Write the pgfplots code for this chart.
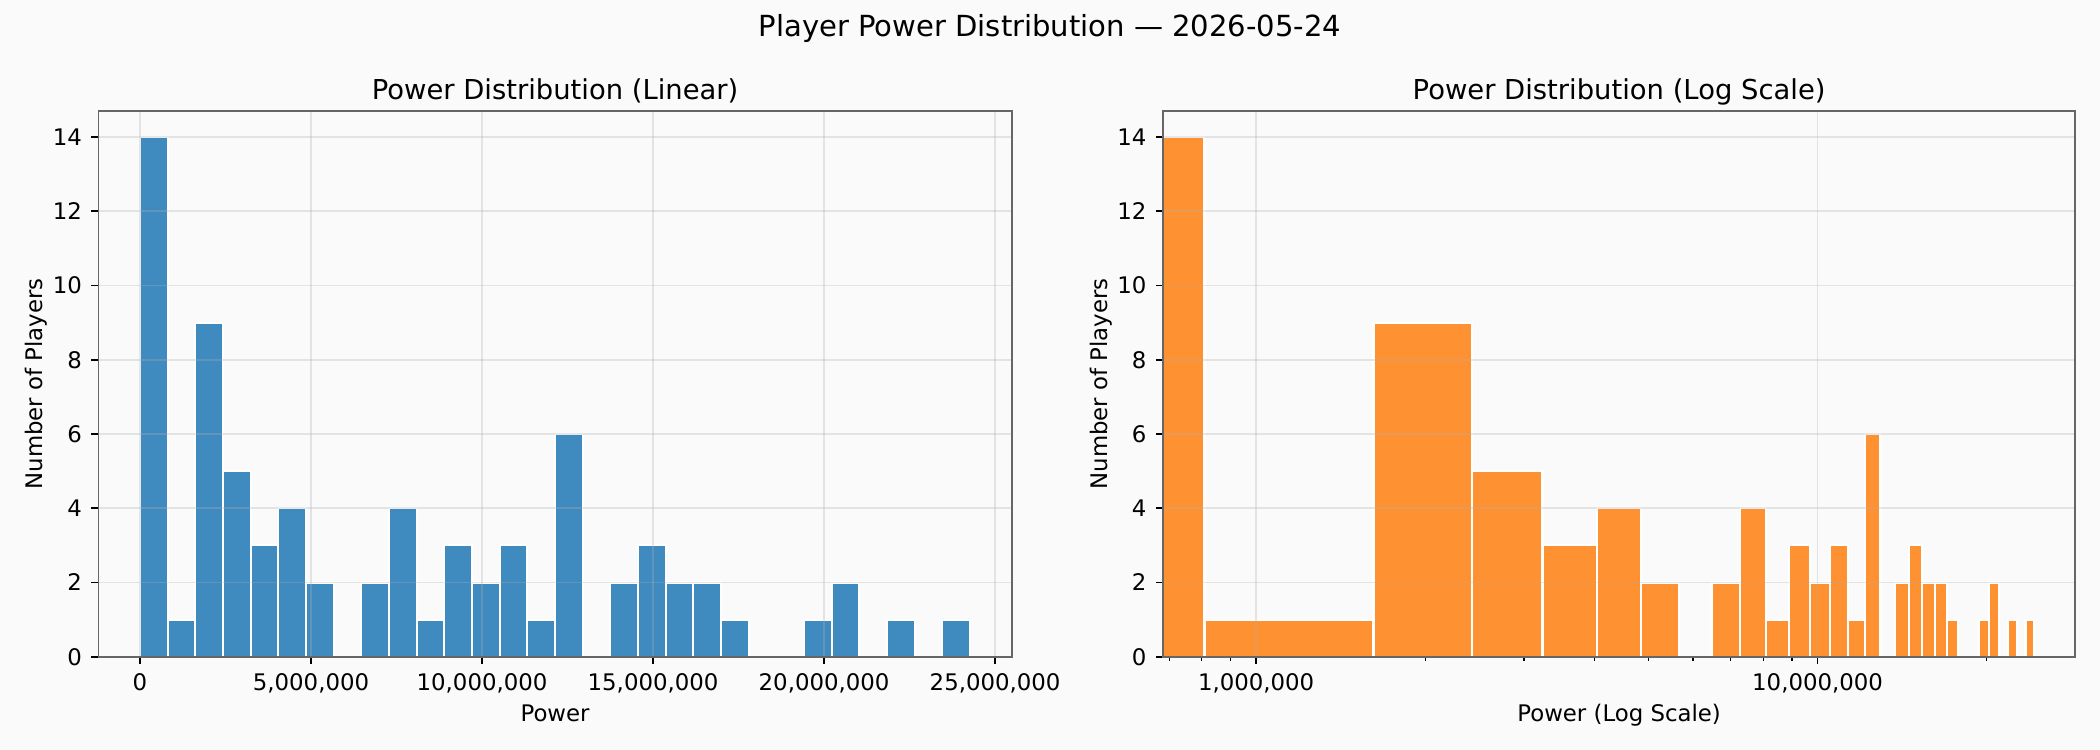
\documentclass[border=0pt]{standalone}
\usepackage{pgfplots}
\pgfplotsset{compat=1.18}
\usepackage{pgfplotstable}
\usepackage{fontspec}
\setmainfont{DejaVu Sans}
\definecolor{bg}{HTML}{FAFAFA}
\definecolor{mblue}{HTML}{1F77B4}
\definecolor{morange}{HTML}{FF7F0E}
\definecolor{spine}{HTML}{666666}
\definecolor{gridc}{HTML}{B0B0B0}

% histogram bins (left edges; last row = right end of last bin)
\pgfplotstableread{
edge count
0 14
809000 1
1618000 9
2427000 5
3236000 3
4045000 4
4854000 2
5663000 0
6472000 2
7281000 4
8090000 1
8899000 3
9708000 2
10517000 3
11326000 1
12135000 6
12944000 0
13753000 2
14562000 3
15371000 2
16180000 2
16989000 1
17798000 0
18607000 0
19416000 1
20225000 2
21034000 0
21843000 1
22652000 0
23461000 1
24270000 0
}\linbins

% same bins for the log axis (first edge 0 is below the axis, clipped)
\pgfplotstableread{
edge count
500000 14
809000 1
1618000 9
2427000 5
3236000 3
4045000 4
4854000 2
5663000 0
6472000 2
7281000 4
8090000 1
8899000 3
9708000 2
10517000 3
11326000 1
12135000 6
12944000 0
13753000 2
14562000 3
15371000 2
16180000 2
16989000 1
17798000 0
18607000 0
19416000 1
20225000 2
21034000 0
21843000 1
22652000 0
23461000 1
24270000 0
}\logbins

\pgfplotsset{
  hist/.style={
    scale only axis,
    height=261.9bp,
    axis background/.style={fill=bg},
    axis line style={spine, line width=0.9pt},
    axis on top,
    ymin=0, ymax=14.7,
    ytick={0,2,...,14},
    tick align=outside,
    xtick pos=bottom, ytick pos=left,
    major tick length=3.5pt, minor tick length=2pt,
    major tick style={black, line width=0.8pt},
    minor tick style={black, line width=0.6pt},
    grid=major,
    major grid style={gridc, line width=0.8pt, draw opacity=0.3},
    tick label style={font=\fontsize{11}{13}\selectfont, inner sep=0pt},
    xticklabel style={anchor=base, yshift=-12.6bp},
    yticklabel style={anchor=east, xshift=-4.3bp},
    label style={font=\fontsize{11}{13}\selectfont},
    every axis title shift=0pt,
    title style={font=\fontsize{13.2}{15}\selectfont, at={(axis description cs:0.5,1.0214)}, anchor=base},
    xlabel style={at={(axis description cs:0.5,-0.118)}, anchor=base},
    ylabel style={at={(axis description cs:-0.0611,0.5)}, anchor=base, rotate=0},
    /pgf/number format/assume math mode=true,
    scaled x ticks=false,
    ylabel={Number of Players},
  }
}

\begin{document}
\begin{tikzpicture}
\fill[bg] (0,0) rectangle (1008bp,360bp);

\begin{axis}[hist,
  at={(47.28bp,44.78bp)}, anchor=south west,
  width=438.3bp,
  xmin=-1213500, xmax=25483500,
  xtick={0,5000000,10000000,15000000,20000000,25000000},
  xticklabels={0,{5,000,000},{10,000,000},{15,000,000},{20,000,000},{25,000,000}},
  title={Power Distribution (Linear)},
  xlabel={Power},
]
\addplot[ybar interval, fill=mblue, fill opacity=0.85, draw=white, line width=1pt]
  table[x=edge, y=count] {\linbins};
\end{axis}

\begin{axis}[hist,
  at={(558.24bp,44.78bp)}, anchor=south west,
  width=437.8bp,
  xmode=log,
  xmin=682600, xmax=28760000,
  xtick={1000000,10000000},
  xticklabels={{1,000,000},{10,000,000}},
  minor xtick={700000,800000,900000,2000000,3000000,4000000,5000000,6000000,7000000,8000000,9000000,20000000},
  title={Power Distribution (Log Scale)},
  xlabel={Power (Log Scale)},
]
\addplot[ybar interval, fill=morange, fill opacity=0.85, draw=white, line width=1pt]
  table[x=edge, y=count] {\logbins};
\end{axis}

\node[font=\fontsize{14}{17}\selectfont, anchor=base] at (504bp,342.4bp) {Player Power Distribution — 2026-05-24};

\pgfresetboundingbox
\useasboundingbox (0,0) rectangle (1008bp,360bp);
\end{tikzpicture}
\end{document}
